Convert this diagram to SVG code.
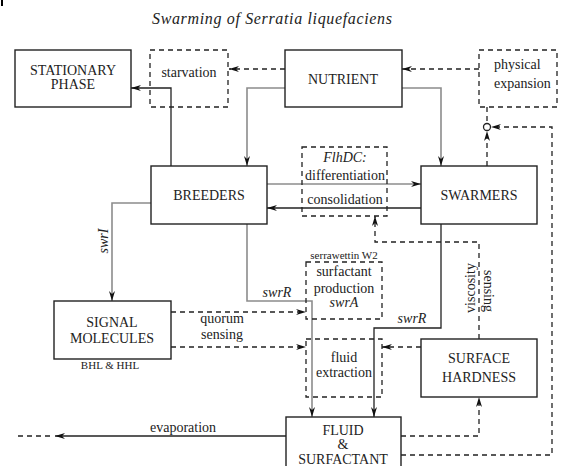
<svg xmlns="http://www.w3.org/2000/svg" width="566" height="466" viewBox="0 0 566 466" font-family="'Liberation Serif', 'Times New Roman', serif">
<defs>
<style>
.box{fill:#fff;stroke:#222;stroke-width:1.4}
.dbox{fill:none;stroke:#222;stroke-width:1.3;stroke-dasharray:5,4}
.t{font-family:'Times New Roman','Liberation Serif','DejaVu Serif',serif;font-size:14px;fill:#222;text-anchor:middle}
.it{font-style:italic}
.sm{font-size:11px}
.c{fill:none;stroke:#222;stroke-width:1.3}
.g{fill:none;stroke:#8c8c8c;stroke-width:1.6}
.d{fill:none;stroke:#222;stroke-width:1.3;stroke-dasharray:5,4}
</style>
<marker id="ah" markerUnits="userSpaceOnUse" markerWidth="11" markerHeight="7" refX="10" refY="3" orient="auto">
<path d="M0,0 L10,3 L0,6 L3,3 z" fill="#111" stroke="none"/>
</marker>
</defs>
<rect x="1" y="0" width="2" height="6" fill="#000"/>
<text class="t it" x="272" y="24" textLength="240" lengthAdjust="spacing" style="font-size:16px">Swarming of Serratia liquefaciens</text>

<g id="connectors">
<path class="d" d="M285,69 L229,69" marker-end="url(#ah)"/>
<path class="c" d="M171,166 L171,88 L131,88" marker-end="url(#ah)"/>
<path class="g" d="M285,88 L247,88 L247,166" marker-end="url(#ah)"/>
<path class="g" d="M402,88 L441,88 L441,166" marker-end="url(#ah)"/>
<path class="d" d="M479,69 L402,69" marker-end="url(#ah)"/>
<path class="d" d="M487,107 L487,123.5"/>
<path class="d" d="M487,166 L487,131" marker-end="url(#ah)"/>
<path class="d" d="M401,455 L552,455 L552,127 L491,127" marker-end="url(#ah)"/>
<circle cx="487" cy="127" r="3.5" fill="#fff" stroke="#222" stroke-width="1.3"/>
<path class="g" d="M267,184 L421,184" marker-end="url(#ah)"/>
<path class="c" d="M421,208 L267,208" marker-end="url(#ah)"/>
<path class="d" d="M479,339 L479,242 L375,242 L375,216" marker-end="url(#ah)"/>
<path class="c" d="M441,224 L441,328 L374,328 L374,417" marker-end="url(#ah)"/>
<path class="g" d="M247,224 L247,301 L312,301 L312,417" marker-end="url(#ah)"/>
<path class="g" d="M151,203 L112,203 L112,301" marker-end="url(#ah)"/>
<path class="d" d="M171,312 L306,312" marker-end="url(#ah)"/>
<path class="d" d="M171,347 L306,347" marker-end="url(#ah)"/>
<path class="d" d="M421,347 L382,347" marker-end="url(#ah)"/>
<path class="d" d="M401,436 L479,436 L479,397" marker-end="url(#ah)"/>
<path class="c" d="M286,436 L55,436" marker-end="url(#ah)"/>
<path class="d" d="M50,436 L18,436"/>
<text class="t" x="183" y="432">evaporation</text>
<text class="t it" x="277" y="297">swrR</text>
<text class="t it" x="412" y="323">swrR</text>
<text class="t it" transform="translate(108,241) rotate(-90)">swrI</text>
<text class="t" x="222" y="323">quorum</text>
<text class="t" x="222" y="339">sensing</text>
<text class="t" transform="translate(475,288) rotate(-90)">viscosity</text>
<text class="t" transform="translate(484,291) rotate(90)">sensing</text>
</g>

<g id="stationary">
<rect class="box" x="15" y="50" width="116" height="57"/>
<text class="t" x="73" y="75">STATIONARY</text>
<text class="t" x="73" y="89">PHASE</text>
</g>
<g id="starvation">
<rect class="dbox" x="150" y="50" width="78" height="57"/>
<text class="t" x="189" y="77">starvation</text>
</g>
<g id="nutrient">
<rect class="box" x="285" y="50" width="117" height="57"/>
<text class="t" x="343" y="84">NUTRIENT</text>
</g>
<g id="physical">
<rect class="dbox" x="479" y="50" width="78" height="57"/>
<text class="t" x="494" y="69" style="text-anchor:start">physical</text>
<text class="t" x="494" y="88" style="text-anchor:start">expansion</text>
</g>
<g id="breeders">
<rect class="box" x="151" y="166" width="116" height="58"/>
<text class="t" x="209" y="200">BREEDERS</text>
</g>
<g id="flhdc">
<rect class="dbox" x="302" y="147" width="85" height="69"/>
<text class="t it" x="345" y="162">FlhDC:</text>
<text class="t" x="345" y="180">differentiation</text>
<text class="t" x="345" y="204">consolidation</text>
</g>
<g id="swarmers">
<rect class="box" x="421" y="166" width="116" height="58"/>
<text class="t" x="479" y="200">SWARMERS</text>
</g>
<g id="surfactant">
<rect class="dbox" x="306" y="262" width="76" height="57"/>
<text class="t sm" x="344" y="259" style="font-size:11px">serrawettin W2</text>
<text class="t" x="344" y="276">surfactant</text>
<text class="t" x="344" y="293">production</text>
<text class="t it" x="344" y="307">swrA</text>
</g>
<g id="signal">
<rect class="box" x="54" y="301" width="117" height="58"/>
<text class="t" x="112" y="327">SIGNAL</text>
<text class="t" x="112" y="343">MOLECULES</text>
<text class="t sm" x="110" y="369" style="font-size:11px">BHL &amp; HHL</text>
</g>
<g id="fluidext">
<rect class="dbox" x="306" y="339" width="76" height="58"/>
<text class="t" x="344" y="362">fluid</text>
<text class="t" x="344" y="377">extraction</text>
</g>
<g id="hardness">
<rect class="box" x="421" y="339" width="116" height="58"/>
<text class="t" x="479" y="363">SURFACE</text>
<text class="t" x="479" y="382">HARDNESS</text>
</g>
<g id="fluid">
<rect class="box" x="286" y="417" width="115" height="60"/>
<text class="t" x="343" y="435">FLUID</text>
<text class="t" x="343" y="449">&amp;</text>
<text class="t" x="343" y="464">SURFACTANT</text>
</g>
</svg>
